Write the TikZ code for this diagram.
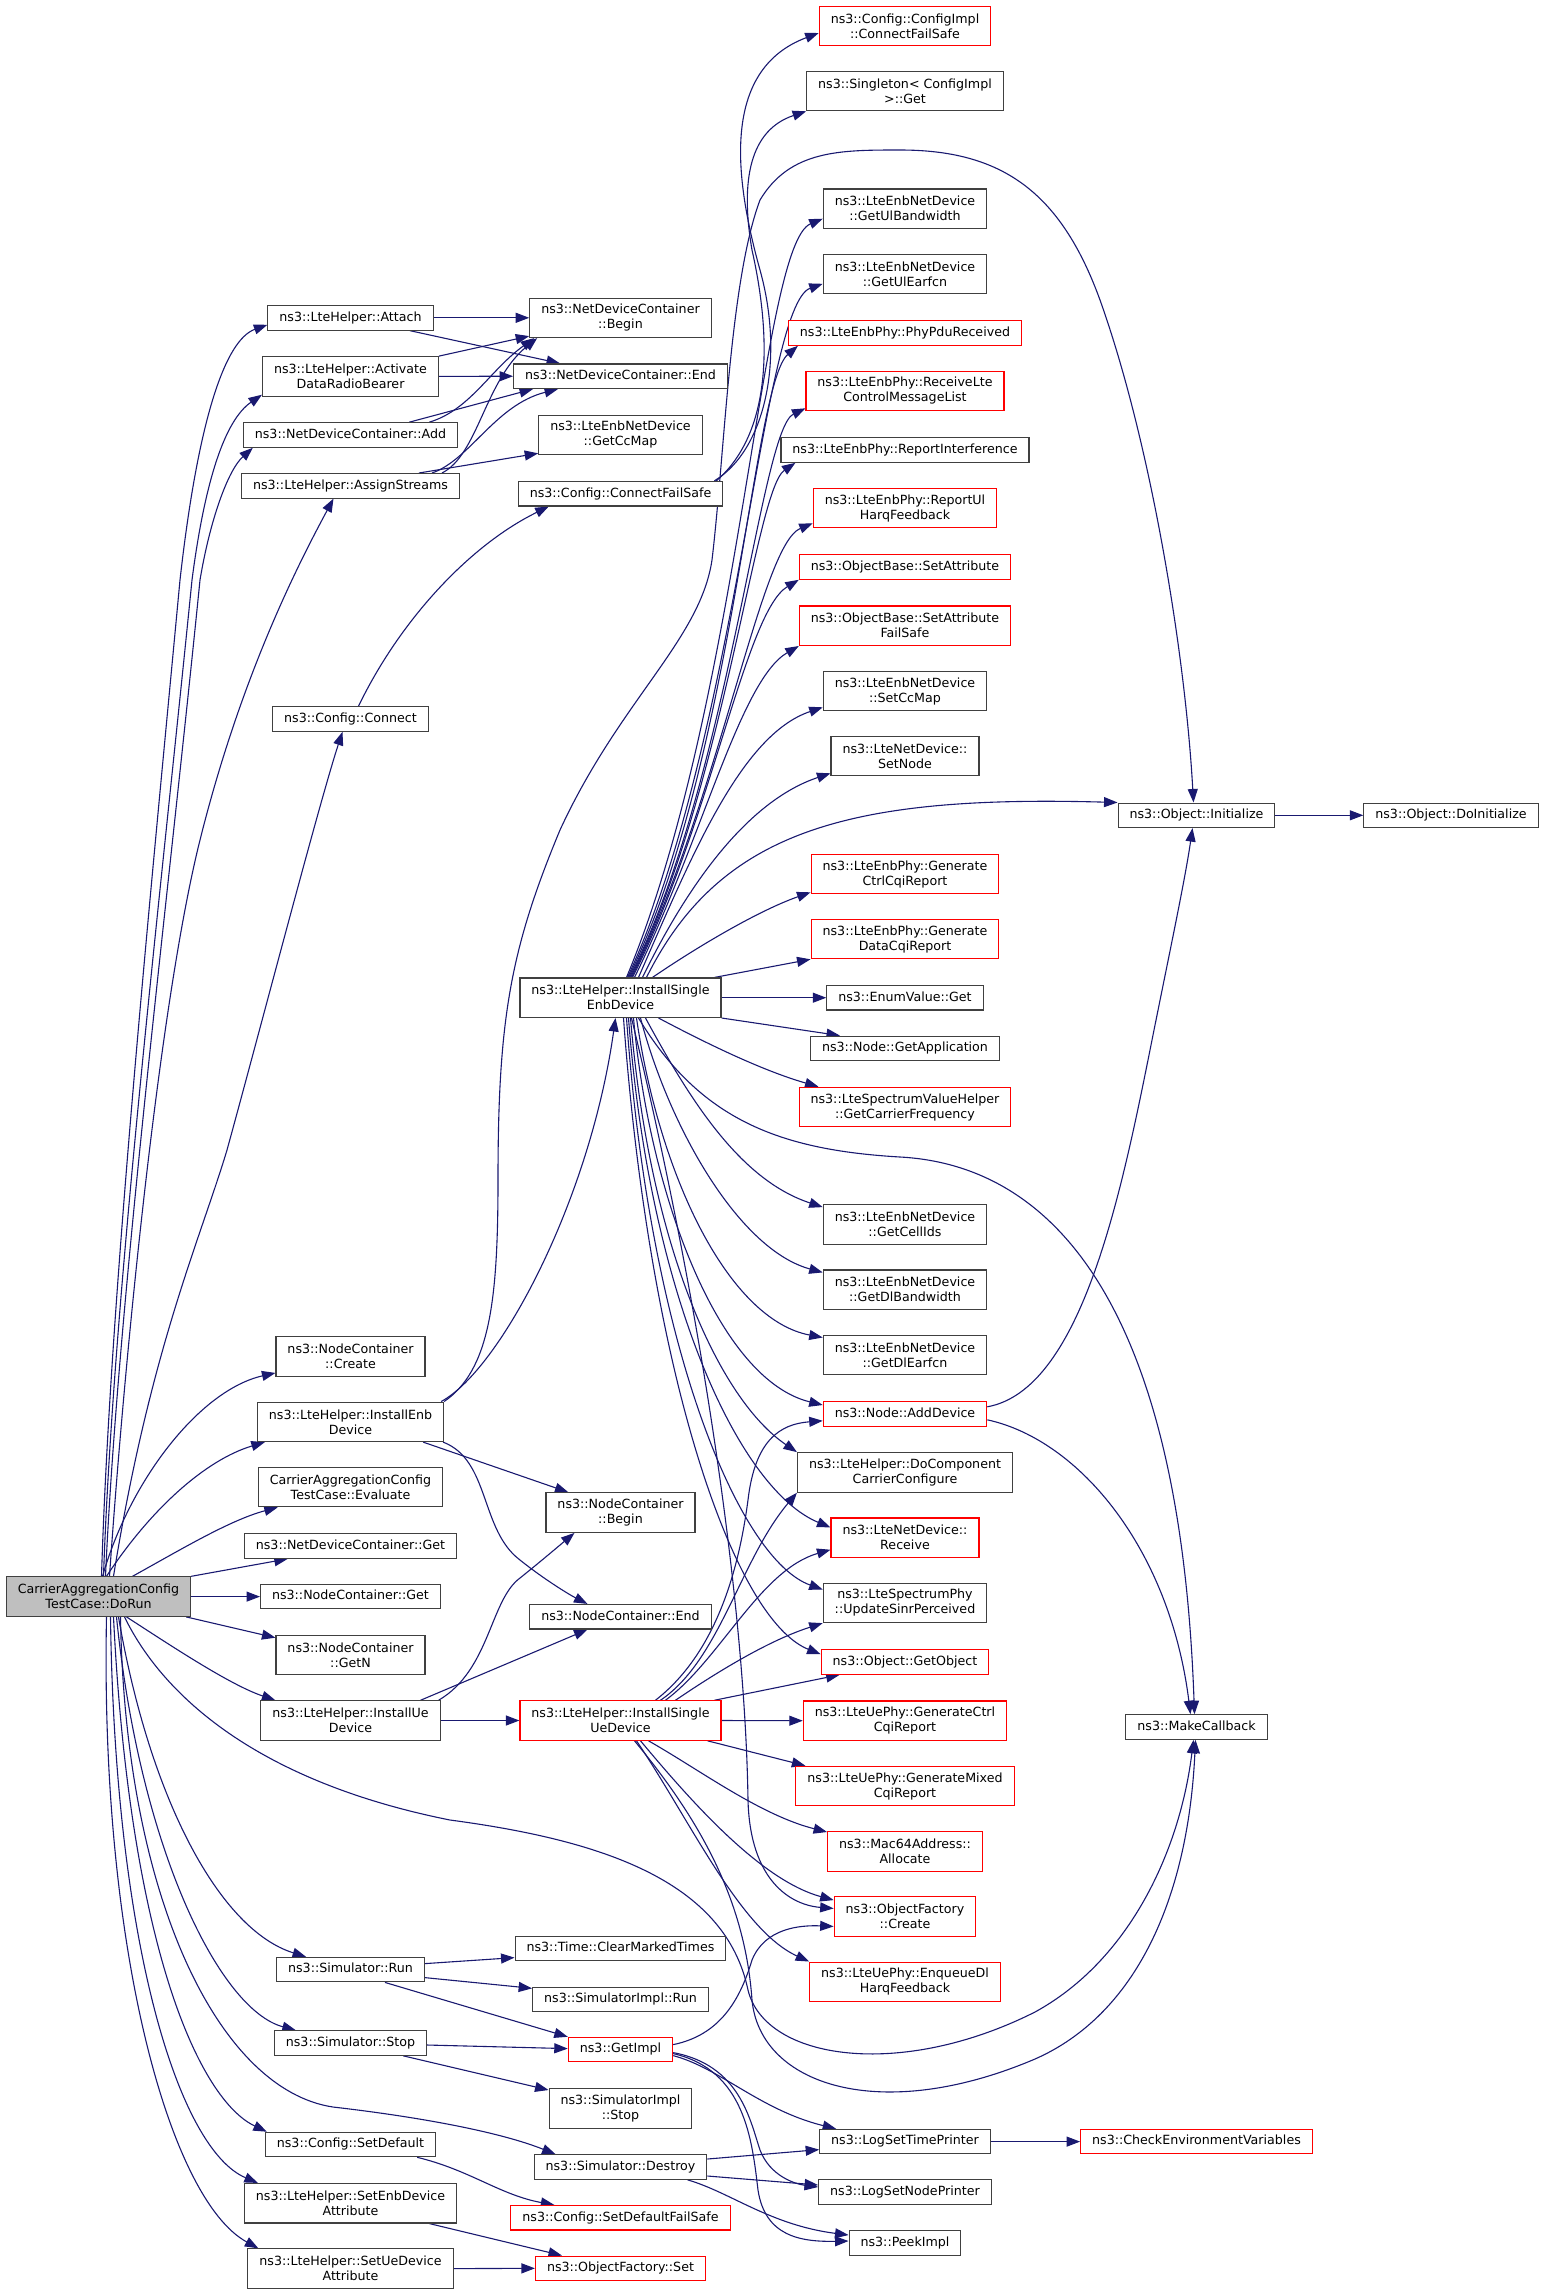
\documentclass[tikz,border=0pt]{standalone}
\usepackage{fontspec}
\newfontfamily\graphfont{DejaVu Sans}
\usetikzlibrary{arrows.meta}
\definecolor{edgeblue}{RGB}{25,25,112}
\definecolor{boxgray}{RGB}{64,64,64}
\definecolor{rootgray}{RGB}{191,191,191}
\pgfdeclarelayer{edges}
\pgfsetlayers{edges,main}

\begin{document}
\begin{tikzpicture}[x=1pt, y=1pt,
    fnbox/.style={draw=boxgray, line width=1.1pt, fill=white, inner xsep=11.5pt, inner ysep=0pt,
      font=\graphfont\fontsize{12.65pt}{15pt}\selectfont},
    fn/.style={fnbox, text height=9.6pt, text depth=2.9pt, minimum height=24.5pt},
    fn2/.style={fnbox, align=center, minimum height=39.5pt},
    redfn/.style={draw=red},
    rootfn/.style={fill=rootgray},
    calledge/.style={draw=edgeblue, line width=1.1pt, -{Triangle[length=13.5pt,width=10pt]}}]

    \useasboundingbox (0,0) rectangle (1545,-2295);

    % Nodo raíz
    \node[fn2, rootfn] (dorun) at (98.5,-1596.6) {CarrierAggregationConfig\\TestCase::DoRun};

    % Primera columna
    \node[fn] (attach) at (350.5,-317.8) {ns3::LteHelper::Attach};
    \node[fn2] (actdrb) at (350.5,-376.4) {ns3::LteHelper::Activate\\DataRadioBearer};
    \node[fn] (ndcadd) at (350.5,-435) {ns3::NetDeviceContainer::Add};
    \node[fn] (assign) at (350.5,-485.8) {ns3::LteHelper::AssignStreams};
    \node[fn] (cfgconn) at (350.5,-719) {ns3::Config::Connect};
    \node[fn2] (nccreate) at (350.5,-1356.6) {ns3::NodeContainer\\::Create};
    \node[fn2] (instenb) at (350.5,-1421.8) {ns3::LteHelper::InstallEnb\\Device};
    \node[fn2] (evaluate) at (350.5,-1487) {CarrierAggregationConfig\\TestCase::Evaluate};
    \node[fn] (ndcget) at (350.5,-1546) {ns3::NetDeviceContainer::Get};
    \node[fn] (ncget) at (350.5,-1596.6) {ns3::NodeContainer::Get};
    \node[fn2] (ncgetn) at (350.5,-1655) {ns3::NodeContainer\\::GetN};
    \node[fn2] (instue) at (350.5,-1720.5) {ns3::LteHelper::InstallUe\\Device};
    \node[fn] (simrun) at (350.5,-1969.6) {ns3::Simulator::Run};
    \node[fn] (simstop) at (350.5,-2043) {ns3::Simulator::Stop};
    \node[fn] (setdef) at (350.5,-2144.5) {ns3::Config::SetDefault};
    \node[fn2] (setenb) at (350.5,-2203.2) {ns3::LteHelper::SetEnbDevice\\Attribute};
    \node[fn2] (setue) at (350.5,-2268.6) {ns3::LteHelper::SetUeDevice\\Attribute};

    % Segunda columna
    \node[fn2] (ndcbegin) at (620.5,-317.8) {ns3::NetDeviceContainer\\::Begin};
    \node[fn] (ndcend) at (620.5,-376.2) {ns3::NetDeviceContainer::End};
    \node[fn2] (getccmap) at (620.5,-435) {ns3::LteEnbNetDevice\\::GetCcMap};
    \node[fn] (cfgcfs) at (620.5,-493.7) {ns3::Config::ConnectFailSafe};
    \node[fn2] (singleenb) at (620.5,-997.7) {ns3::LteHelper::InstallSingle\\EnbDevice};
    \node[fn2] (ncbegin) at (620.5,-1512.6) {ns3::NodeContainer\\::Begin};
    \node[fn] (ncend) at (620.5,-1616.7) {ns3::NodeContainer::End};
    \node[fn2, redfn] (singleue) at (620.5,-1720.5) {ns3::LteHelper::InstallSingle\\UeDevice};
    \node[fn] (clearmt) at (620.5,-1948.6) {ns3::Time::ClearMarkedTimes};
    \node[fn] (implrun) at (620.5,-1999.3) {ns3::SimulatorImpl::Run};
    \node[fn, redfn] (getimpl) at (620.5,-2049.6) {ns3::GetImpl};
    \node[fn2] (implstop) at (620.5,-2108.3) {ns3::SimulatorImpl\\::Stop};
    \node[fn] (simdestroy) at (620.5,-2167) {ns3::Simulator::Destroy};
    \node[fn, redfn] (setdeffs) at (620.5,-2217.7) {ns3::Config::SetDefaultFailSafe};
    \node[fn, redfn] (ofset) at (620.5,-2268.3) {ns3::ObjectFactory::Set};

    % Tercera columna
    \node[fn2, redfn] (cicfs) at (905,-26) {ns3::Config::ConfigImpl\\::ConnectFailSafe};
    \node[fn2] (singleton) at (905,-91) {ns3::Singleton< ConfigImpl\\>::Get};
    \node[fn2] (getulbw) at (905,-208.7) {ns3::LteEnbNetDevice\\::GetUlBandwidth};
    \node[fn2] (getulearfcn) at (905,-273.8) {ns3::LteEnbNetDevice\\::GetUlEarfcn};
    \node[fn, redfn] (phypdu) at (905,-333) {ns3::LteEnbPhy::PhyPduReceived};
    \node[fn2, redfn] (recvctrl) at (905,-391) {ns3::LteEnbPhy::ReceiveLte\\ControlMessageList};
    \node[fn] (reportintf) at (905,-450) {ns3::LteEnbPhy::ReportInterference};
    \node[fn2, redfn] (reportul) at (905,-508) {ns3::LteEnbPhy::ReportUl\\HarqFeedback};
    \node[fn, redfn] (setattr) at (905,-567) {ns3::ObjectBase::SetAttribute};
    \node[fn2, redfn] (setattrfs) at (905,-625.7) {ns3::ObjectBase::SetAttribute\\FailSafe};
    \node[fn2] (setccmap) at (905,-691) {ns3::LteEnbNetDevice\\::SetCcMap};
    \node[fn2] (setnode) at (905,-756) {ns3::LteNetDevice::\\SetNode};
    \node[fn2, redfn] (genctrl) at (905,-874) {ns3::LteEnbPhy::Generate\\CtrlCqiReport};
    \node[fn2, redfn] (gendata) at (905,-939) {ns3::LteEnbPhy::Generate\\DataCqiReport};
    \node[fn] (enumget) at (905,-997.7) {ns3::EnumValue::Get};
    \node[fn] (getapp) at (905,-1048.4) {ns3::Node::GetApplication};
    \node[fn2, redfn] (getcarrier) at (905,-1107) {ns3::LteSpectrumValueHelper\\::GetCarrierFrequency};
    \node[fn2] (getcellids) at (905,-1224.4) {ns3::LteEnbNetDevice\\::GetCellIds};
    \node[fn2] (getdlbw) at (905,-1289.7) {ns3::LteEnbNetDevice\\::GetDlBandwidth};
    \node[fn2] (getdlearfcn) at (905,-1354.8) {ns3::LteEnbNetDevice\\::GetDlEarfcn};
    \node[fn, redfn] (adddev) at (905,-1413.8) {ns3::Node::AddDevice};
    \node[fn2] (doccc) at (905,-1472.4) {ns3::LteHelper::DoComponent\\CarrierConfigure};
    \node[fn2, redfn] (ndrecv) at (905,-1537.7) {ns3::LteNetDevice::\\Receive};
    \node[fn2] (updsinr) at (905,-1602.8) {ns3::LteSpectrumPhy\\::UpdateSinrPerceived};
    \node[fn, redfn] (getobj) at (905,-1662) {ns3::Object::GetObject};
    \node[fn2, redfn] (uectrl) at (905,-1720.7) {ns3::LteUePhy::GenerateCtrl\\CqiReport};
    \node[fn2, redfn] (uemixed) at (905,-1786) {ns3::LteUePhy::GenerateMixed\\CqiReport};
    \node[fn2, redfn] (macalloc) at (905,-1851.3) {ns3::Mac64Address::\\Allocate};
    \node[fn2, redfn] (ofcreate) at (905,-1916.4) {ns3::ObjectFactory\\::Create};
    \node[fn2, redfn] (enqdl) at (905,-1981.8) {ns3::LteUePhy::EnqueueDl\\HarqFeedback};
    \node[fn] (logtime) at (905,-2141.6) {ns3::LogSetTimePrinter};
    \node[fn] (lognode) at (905,-2192) {ns3::LogSetNodePrinter};
    \node[fn] (peekimpl) at (905,-2243) {ns3::PeekImpl};

    % Columnas de la derecha
    \node[fn] (initialize) at (1196.5,-815.3) {ns3::Object::Initialize};
    \node[fn] (makecb) at (1196.5,-1727) {ns3::MakeCallback};
    \node[fn, redfn] (checkenv) at (1196.5,-2141.6) {ns3::CheckEnvironmentVariables};
    \node[fn] (doinit) at (1451,-815.3) {ns3::Object::DoInitialize};

    \begin{pgfonlayer}{edges}
    % Llamadas desde DoRun
    \draw[calledge] ([xshift=3pt]dorun.north) .. controls (110,-1300) and (150,-900) .. (180,-580) .. controls (198,-420) and (225,-340) .. ([yshift=-7pt]attach.west);
    \draw[calledge] ([xshift=5pt]dorun.north) .. controls (113,-1300) and (160,-900) .. (192,-580) .. controls (205,-480) and (225,-420) .. ([yshift=2pt]actdrb.south west);
    \draw[calledge] ([xshift=7pt]dorun.north) .. controls (118,-1300) and (168,-900) .. (200,-580) .. controls (210,-520) and (228,-470) .. ([xshift=10pt]ndcadd.south west);
    \draw[calledge] ([xshift=11pt]dorun.north) .. controls (125,-1350) and (160,-1000) .. (200,-840) .. controls (240,-680) and (295,-570) .. ([xshift=-17pt]assign.south);
    \draw[calledge] ([xshift=15pt]dorun.north) .. controls (150,-1350) and (200,-1240) .. (227,-1150) .. controls (260,-1030) and (320,-800) .. ([xshift=-8pt]cfgconn.south);
    \draw[calledge] ([xshift=4pt]dorun.north) .. controls (130,-1480) and (200,-1390) .. ([yshift=4pt]nccreate.south west);
    \draw[calledge] ([xshift=8pt]dorun.north) .. controls (150,-1510) and (205,-1460) .. ([xshift=8pt]instenb.south west);
    \draw[calledge] ([xshift=34pt]dorun.north) .. controls (180,-1550) and (230,-1520) .. ([xshift=20pt]evaluate.south west);
    \draw[calledge] (dorun.north east) -- ([xshift=44pt]ndcget.south west);
    \draw[calledge] (dorun.east) -- (ncget.west);
    \draw[calledge] ([xshift=-5pt]dorun.south east) -- ([yshift=-3pt]ncgetn.north west);
    \draw[calledge] ([xshift=28pt]dorun.south) .. controls (170,-1645) and (230,-1685) .. ([xshift=15pt]instue.north west);
    \draw[calledge] ([xshift=20pt]dorun.south) .. controls (150,-1800) and (220,-1930) .. ([xshift=30pt]simrun.north west);
    \draw[calledge] ([xshift=18pt]dorun.south) .. controls (140,-1850) and (220,-2010) .. ([xshift=22pt]simstop.north west);
    \draw[calledge] ([xshift=15pt]dorun.south) .. controls (130,-1950) and (200,-2100) .. ([xshift=2pt]setdef.north west);
    \draw[calledge] ([xshift=12pt]dorun.south) .. controls (115,-1950) and (180,-2150) .. ([xshift=14pt]setenb.north west);
    \draw[calledge] ([xshift=8pt]dorun.south) .. controls (100,-1950) and (170,-2200) .. ([xshift=11pt]setue.north west);
    \draw[calledge] ([xshift=22pt]dorun.south) .. controls (125,-1900) and (220,-2090) .. (333,-2107) .. controls (420,-2117) and (500,-2132) .. ([xshift=22pt]simdestroy.north west);
    \draw[calledge] ([xshift=26pt]dorun.south) .. controls (160,-1690) and (250,-1780) .. (450,-1820) .. controls (600,-1840) and (725,-1880) .. (748,-1990) .. controls (765,-2060) and (900,-2080) .. (1035,-2012) .. controls (1130,-1960) and (1180,-1850) .. ([xshift=-3pt]makecb.south);

    % Contenedores y configuracion
    \draw[calledge] (attach.east) -- (ndcbegin.west);
    \draw[calledge] ([xshift=-24pt]attach.south east) -- ([xshift=47pt]ndcend.north west);
    \draw[calledge] (actdrb.north east) -- ([yshift=2pt]ndcbegin.south west);
    \draw[calledge] (actdrb.east) -- (ndcend.west);
    \draw[calledge] ([xshift=-29pt]ndcadd.north east) .. controls (470,-410) and (490,-370) .. ([xshift=5pt]ndcbegin.south west);
    \draw[calledge] ([xshift=-49pt]ndcadd.north east) -- ([xshift=20pt]ndcend.south west);
    \draw[calledge] ([xshift=-18pt]assign.north east) .. controls (478,-455) and (485,-380) .. ([xshift=8pt]ndcbegin.south west);
    \draw[calledge] ([xshift=-28pt]assign.north east) .. controls (470,-460) and (495,-405) .. ([xshift=45pt]ndcend.south west);
    \draw[calledge] ([xshift=-41pt]assign.north east) -- ([yshift=2pt]getccmap.south west);
    \draw[calledge] ([xshift=8pt]cfgconn.north) .. controls (400,-620) and (470,-545) .. ([xshift=31pt]cfgcfs.south west);
    \draw[calledge] ([xshift=-9pt]cfgcfs.north east) .. controls (765,-450) and (785,-360) .. (760,-270) .. controls (735,-180) and (720,-70) .. ([yshift=-7pt]cicfs.west);
    \draw[calledge] ([xshift=-7pt]cfgcfs.north east) .. controls (775,-430) and (770,-330) .. (752,-250) .. controls (740,-180) and (750,-130) .. (singleton.south west);

    % Llamadas desde InstallSingleEnbDevice
    \draw[calledge] ([xshift=6pt]singleenb.north) .. controls (742,-700) and (760,-245) .. ([yshift=-10pt]getulbw.west);
    \draw[calledge] ([xshift=7pt]singleenb.north) .. controls (738,-740) and (762,-305) .. ([yshift=-10pt]getulearfcn.west);
    \draw[calledge] ([xshift=8pt]singleenb.north) .. controls (735,-760) and (752,-385) .. ([xshift=10pt]phypdu.south west);
    \draw[calledge] ([xshift=9pt]singleenb.north) .. controls (730,-780) and (760,-430) .. ([yshift=3pt]recvctrl.south west);
    \draw[calledge] ([xshift=10pt]singleenb.north) .. controls (725,-790) and (755,-490) .. ([xshift=15pt]reportintf.south west);
    \draw[calledge] ([xshift=11pt]singleenb.north) .. controls (720,-800) and (760,-545) .. ([yshift=5pt]reportul.south west);
    \draw[calledge] ([xshift=12pt]singleenb.north) .. controls (712,-820) and (745,-612) .. (setattr.south west);
    \draw[calledge] ([xshift=14pt]singleenb.north) .. controls (702,-840) and (740,-680) .. (setattrfs.south west);
    \draw[calledge] ([xshift=18pt]singleenb.north) .. controls (690,-860) and (740,-735) .. ([yshift=4pt]setccmap.south west);
    \draw[calledge] ([xshift=22pt]singleenb.north) .. controls (690,-880) and (750,-800) .. ([yshift=3pt]setnode.south west);
    \draw[calledge] ([xshift=26pt]singleenb.north) .. controls (720,-830) and (850,-795) .. (initialize.north west);
    \draw[calledge] ([xshift=32pt]singleenb.north) .. controls (700,-945) and (760,-910) .. ([yshift=2pt]genctrl.south west);
    \draw[calledge] ([xshift=-7pt]singleenb.north east) -- (gendata.south west);
    \draw[calledge] (singleenb.east) -- (enumget.west);
    \draw[calledge] (singleenb.south east) -- ([xshift=30pt]getapp.north west);
    \draw[calledge] ([xshift=38pt]singleenb.south) .. controls (700,-1040) and (760,-1070) .. ([xshift=20pt]getcarrier.north west);
    \draw[calledge] ([xshift=18pt]singleenb.south) .. controls (700,-1120) and (780,-1150) .. (900,-1157) .. controls (1050,-1165) and (1180,-1300) .. ([xshift=-2pt]makecb.north);
    \draw[calledge] ([xshift=25pt]singleenb.south) .. controls (690,-1100) and (740,-1180) .. ([yshift=-3pt]getcellids.north west);
    \draw[calledge] ([xshift=20pt]singleenb.south) .. controls (670,-1130) and (740,-1250) .. ([yshift=-3pt]getdlbw.north west);
    \draw[calledge] ([xshift=16pt]singleenb.south) .. controls (660,-1180) and (730,-1320) .. ([yshift=-3pt]getdlearfcn.north west);
    \draw[calledge] ([xshift=13pt]singleenb.south) .. controls (650,-1200) and (720,-1380) .. ([yshift=-4pt]adddev.north west);
    \draw[calledge] ([xshift=10pt]singleenb.south) .. controls (650,-1250) and (720,-1400) .. (doccc.north west);
    \draw[calledge] ([xshift=8pt]singleenb.south) .. controls (650,-1300) and (740,-1490) .. ([yshift=-10pt]ndrecv.north west);
    \draw[calledge] ([xshift=6pt]singleenb.south) .. controls (650,-1350) and (740,-1560) .. ([yshift=-7pt]updsinr.north west);
    \draw[calledge] ([xshift=3pt]singleenb.south) .. controls (650,-1380) and (735,-1620) .. ([yshift=-5pt]getobj.north west);
    \draw[calledge] ([xshift=11pt]singleenb.south) .. controls (700,-1300) and (745,-1600) .. (748,-1800) .. controls (750,-1880) and (790,-1905) .. ([yshift=8pt]ofcreate.west);

    % Llamadas desde InstallEnbDevice e InstallUeDevice
    \draw[calledge] (instenb.north east) .. controls (490,-1370) and (498,-1300) .. (498,-1180) .. controls (498,-1020) and (510,-950) .. (560,-830) .. controls (620,-700) and (700,-640) .. (712,-560) .. controls (725,-450) and (730,-280) .. (760,-200) .. controls (790,-150) and (840,-150) .. (900,-150) .. controls (1000,-150) and (1060,-190) .. (1100,-300) .. controls (1150,-440) and (1185,-650) .. ([xshift=-3pt]initialize.north);
    \draw[calledge] ([xshift=-3pt]instenb.north east) .. controls (500,-1370) and (590,-1200) .. ([xshift=-5pt]singleenb.south);
    \draw[calledge] ([xshift=-21pt]instenb.south east) -- ([xshift=23pt]ncbegin.north west);
    \draw[calledge] ([xshift=-1pt]instenb.south east) .. controls (490,-1460) and (480,-1530) .. (520,-1560) .. controls (545,-1580) and (570,-1595) .. ([xshift=-33pt]ncend.north);
    \draw[calledge] (instue.east) -- (singleue.west);
    \draw[calledge] ([xshift=-2pt]instue.north east) .. controls (490,-1670) and (490,-1600) .. (520,-1578) .. controls (540,-1562) and (560,-1545) .. ([xshift=-46pt]ncbegin.south);
    \draw[calledge] ([xshift=-20pt]instue.north east) -- ([xshift=-33pt]ncend.south);

    % Llamadas desde InstallSingleUeDevice
    \draw[calledge] ([xshift=35pt]singleue.north) .. controls (720,-1650) and (740,-1560) .. (748,-1500) .. controls (755,-1440) and (780,-1424) .. ([yshift=-7pt]adddev.west);
    \draw[calledge] ([xshift=40pt]singleue.north) .. controls (720,-1660) and (740,-1560) .. (doccc.south west);
    \draw[calledge] ([xshift=45pt]singleue.north) .. controls (720,-1660) and (760,-1570) .. ([yshift=-12pt]ndrecv.west);
    \draw[calledge] ([xshift=55pt]singleue.north) .. controls (720,-1670) and (770,-1640) .. (updsinr.south west);
    \draw[calledge] ([xshift=-7pt]singleue.north east) -- ([xshift=19pt]getobj.south west);
    \draw[calledge] (singleue.east) -- (uectrl.west);
    \draw[calledge] ([xshift=-14pt]singleue.south east) -- ([xshift=10pt]uemixed.north west);
    \draw[calledge] ([xshift=28pt]singleue.south) .. controls (700,-1770) and (760,-1815) .. ([yshift=-1pt]macalloc.north west);
    \draw[calledge] ([xshift=20pt]singleue.south) .. controls (690,-1800) and (760,-1880) .. ([yshift=-4pt]ofcreate.north west);
    \draw[calledge] ([xshift=16pt]singleue.south) .. controls (690,-1820) and (740,-1930) .. (enqdl.north west);
    \draw[calledge] ([xshift=14pt]singleue.south) .. controls (700,-1820) and (745,-1900) .. (752,-2000) .. controls (760,-2085) and (880,-2125) .. (1035,-2059) .. controls (1135,-2015) and (1188,-1900) .. ([xshift=-1pt]makecb.south);

    % Simulador
    \draw[calledge] ([yshift=6pt]simrun.east) -- ([yshift=-9pt]clearmt.west);
    \draw[calledge] ([yshift=-8pt]simrun.east) -- ([yshift=11pt]implrun.west);
    \draw[calledge] ([xshift=-40pt]simrun.south east) -- (getimpl.north west);
    \draw[calledge] ([yshift=-2pt]simstop.east) -- ([yshift=1pt]getimpl.west);
    \draw[calledge] ([xshift=-24pt]simstop.south east) -- ([yshift=-2pt]implstop.north west);
    \draw[calledge] ([yshift=5pt]getimpl.east) .. controls (720,-2035) and (740,-2000) .. (752,-1960) .. controls (765,-1928) and (800,-1925) .. ([yshift=-10pt]ofcreate.west);
    \draw[calledge] ([yshift=-6pt]getimpl.east) .. controls (720,-2068) and (760,-2110) .. ([xshift=17pt]logtime.north west);
    \draw[calledge] ([yshift=-3pt]getimpl.east) .. controls (740,-2065) and (750,-2120) .. (760,-2150) .. controls (770,-2176) and (795,-2184) .. ([yshift=5pt]lognode.west);
    \draw[calledge] ([yshift=-4pt]getimpl.east) .. controls (745,-2070) and (752,-2140) .. (758,-2190) .. controls (765,-2236) and (800,-2242) .. ([yshift=2pt]peekimpl.west);
    \draw[calledge] ([yshift=8pt]simdestroy.east) -- ([yshift=-8pt]logtime.west);
    \draw[calledge] ([yshift=-9pt]simdestroy.east) -- ([yshift=7pt]lognode.west);
    \draw[calledge] ([xshift=-20pt]simdestroy.south east) .. controls (730,-2192) and (770,-2225) .. ([yshift=8pt]peekimpl.west);
    \draw[calledge] (logtime.east) -- (checkenv.west);

    % Atributos
    \draw[calledge] ([xshift=-19pt]setdef.south east) .. controls (470,-2170) and (500,-2195) .. ([xshift=44pt]setdeffs.north west);
    \draw[calledge] ([xshift=-28pt]setenb.south east) -- ([xshift=27pt]ofset.north west);
    \draw[calledge] (setue.east) -- (ofset.west);

    % Object y MakeCallback
    \draw[calledge] (initialize.east) -- (doinit.west);
    \draw[calledge] ([yshift=7pt]adddev.east) .. controls (1080,-1390) and (1120,-1200) .. (1150,-1050) .. controls (1170,-950) and (1185,-880) .. ([xshift=-4pt]initialize.south);
    \draw[calledge] ([yshift=-6pt]adddev.east) .. controls (1080,-1440) and (1170,-1550) .. ([xshift=-6pt]makecb.north);
    \end{pgfonlayer}

\end{tikzpicture}
\end{document}
